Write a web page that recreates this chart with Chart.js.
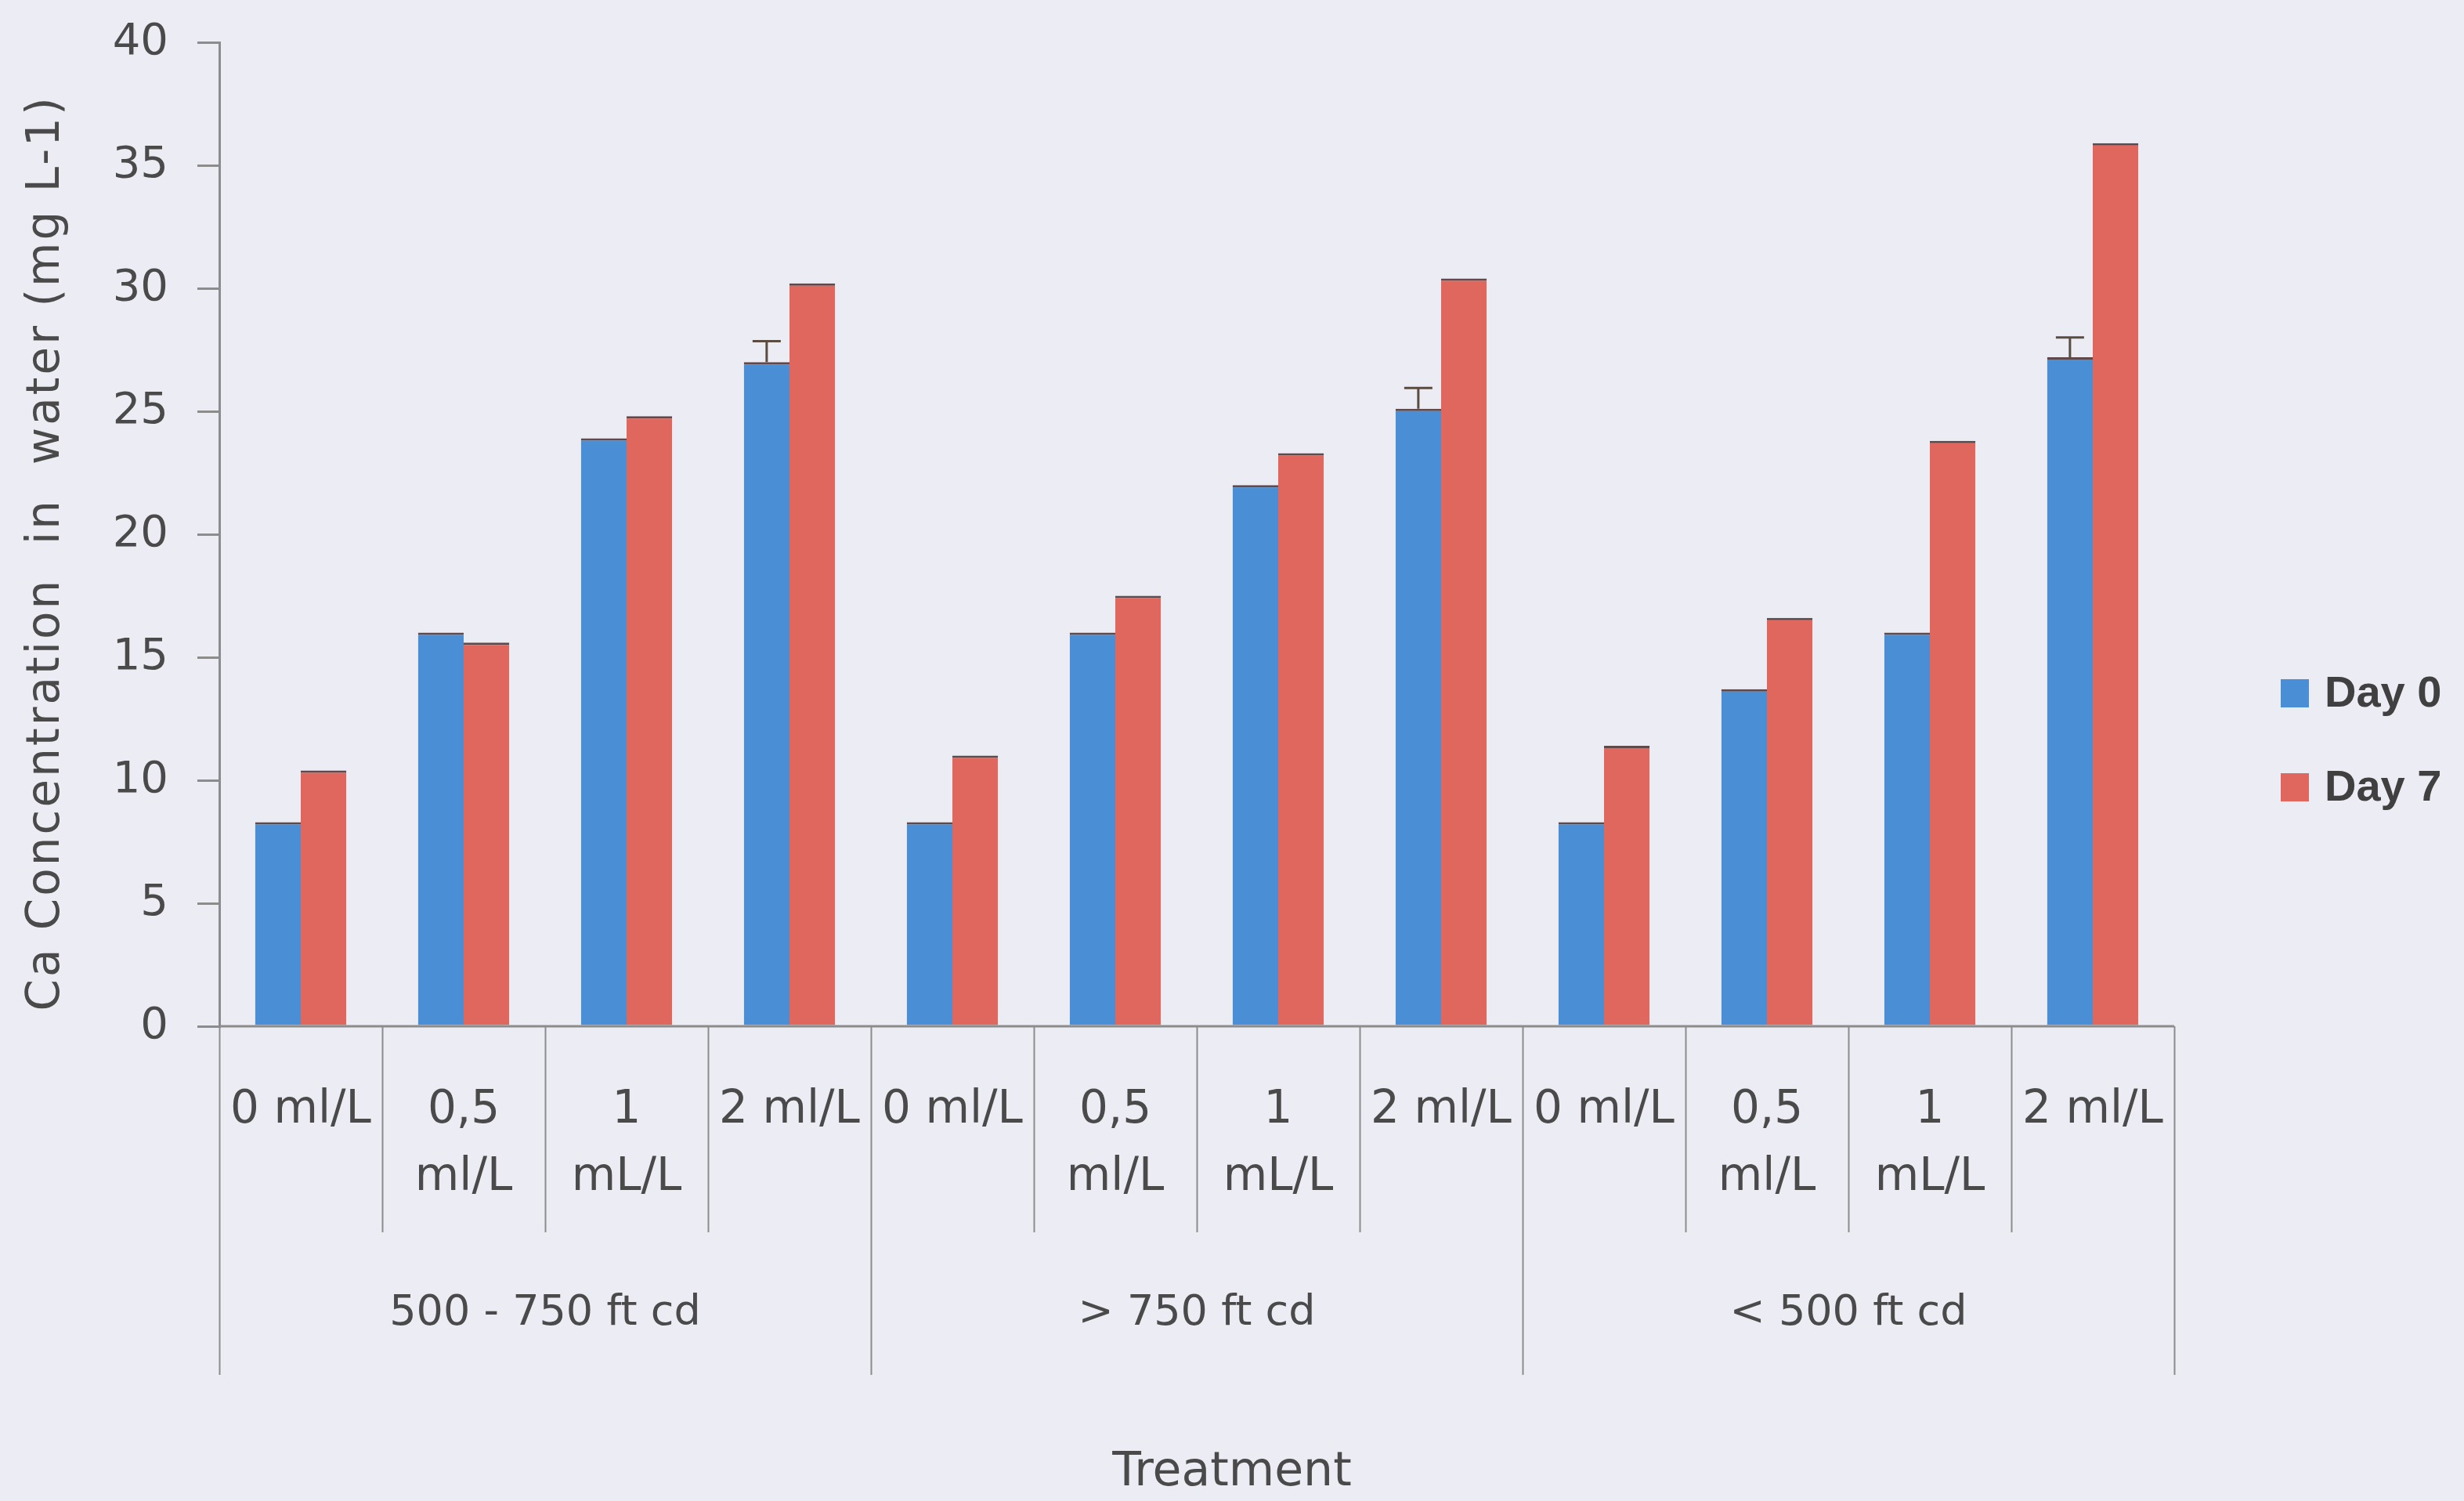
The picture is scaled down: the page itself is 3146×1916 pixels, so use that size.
<!DOCTYPE html>
<html>
<head>
<meta charset="utf-8">
<script src="https://cdn.jsdelivr.net/npm/chart.js@4/dist/chart.umd.min.js"></script>
<style>
  html, body { margin: 0; padding: 0; background: #ececf4; }
  canvas { display: block; }
</style>
</head>
<body>
<canvas id="chart" width="3146" height="1916"></canvas>
<script>
// Ca concentration in water by light level and dose
const doseLabels = [
  ["0 ml/L"], ["0,5", "ml/L"], ["1", "mL/L"], ["2 ml/L"],
  ["0 ml/L"], ["0,5", "ml/L"], ["1", "mL/L"], ["2 ml/L"],
  ["0 ml/L"], ["0,5", "ml/L"], ["1", "mL/L"], ["2 ml/L"]
];
const lightGroups = ["500 - 750 ft cd", "> 750 ft cd", "< 500 ft cd"];
const groupSize = 4;
const seriesNames = ["Day 0", "Day 7"];
const day0 = [8.3, 16.0, 23.9, 27.0, 8.3, 16.0, 22.0, 25.1, 8.3, 13.7, 16.0, 27.2];
const day7 = [10.4, 15.6, 24.8, 30.2, 11.0, 17.5, 23.3, 30.4, 11.4, 16.6, 23.8, 35.9];
const day0Err = [0, 0, 0, 0.85, 0, 0, 0, 0.85, 0, 0, 0, 0.8];
const yTicks = [0, 5, 10, 15, 20, 25, 30, 35, 40];
const yTitle = "Ca Concentration  in  water (mg L-1)";
const xTitle = "Treatment";

const colors = ["#4a8fd6", "#e0675e"];
const axisColor = "#8c8c8c";
const textColor = "#4a4a4a";
const font = "'DejaVu Sans', sans-serif";

const background = {
  id: "background",
  beforeDraw(chart) {
    const { ctx, width, height } = chart;
    ctx.save();
    ctx.fillStyle = "#ececf4";
    ctx.fillRect(0, 0, width, height);
    ctx.restore();
  }
};

// Error bars on Day 0
const errorBars = {
  id: "errorBars",
  afterDatasetsDraw(chart) {
    const { ctx } = chart;
    const y = chart.scales.y;
    const meta = chart.getDatasetMeta(0);
    ctx.save();
    ctx.strokeStyle = "#5a4c40";
    ctx.lineWidth = 3;
    meta.data.forEach((bar, i) => {
      const e = day0Err[i];
      if (!e) return;
      const top = y.getPixelForValue(day0[i] + e);
      const base = y.getPixelForValue(day0[i]);
      ctx.beginPath();
      ctx.moveTo(bar.x, base);
      ctx.lineTo(bar.x, top);
      ctx.moveTo(bar.x - 18, top);
      ctx.lineTo(bar.x + 18, top);
      ctx.stroke();
    });
    ctx.restore();
  }
};

// Two-level category axis, axis titles and legend
const treatmentAxis = {
  id: "treatmentAxis",
  afterDraw(chart) {
    const { ctx } = chart;
    const x = chart.scales.x;
    const y = chart.scales.y;
    const area = chart.chartArea;
    const base = y.getPixelForValue(0);
    const step = x.getPixelForValue(1) - x.getPixelForValue(0);
    const edge = i => x.getPixelForValue(0) - step / 2 + i * step;

    ctx.save();
    ctx.strokeStyle = axisColor;
    ctx.lineWidth = 3;
    ctx.beginPath();
    ctx.moveTo(area.left, base);
    ctx.lineTo(area.right, base);
    ctx.stroke();

    ctx.lineWidth = 2;
    for (let i = 0; i <= doseLabels.length; i++) {
      const bx = Math.round(edge(i)) + 0.5;
      const bottom = (i % groupSize === 0) ? 1755 : 1573;
      ctx.beginPath();
      ctx.moveTo(bx, base);
      ctx.lineTo(bx, bottom);
      ctx.stroke();
    }

    ctx.fillStyle = textColor;
    ctx.textAlign = "center";
    ctx.textBaseline = "middle";
    ctx.font = "58px " + font;
    doseLabels.forEach((lines, i) => {
      const cx = x.getPixelForValue(i);
      lines.forEach((t, k) => ctx.fillText(t, cx, 1418 + k * 86));
    });

    ctx.font = "54px " + font;
    lightGroups.forEach((g, j) => {
      const cx = (edge(j * groupSize) + edge((j + 1) * groupSize)) / 2;
      ctx.fillText(g, cx, 1677);
    });

    ctx.font = "60px " + font;
    ctx.fillText(xTitle, chart.width / 2, 1880);

    ctx.save();
    ctx.translate(60, 706);
    ctx.rotate(-Math.PI / 2);
    ctx.font = "58px " + font;
    ctx.letterSpacing = "3px";
    ctx.fillText(yTitle, 0, 0);
    ctx.restore();

    // legend
    ctx.textAlign = "left";
    ctx.font = "bold 56px 'Liberation Sans', Arial, sans-serif";
    chart.data.datasets.forEach((ds, k) => {
      const cy = 885 + k * 120;
      ctx.fillStyle = ds.backgroundColor;
      ctx.fillRect(2912, cy - 18, 36, 36);
      ctx.fillStyle = "#404040";
      ctx.fillText(ds.label, 2968, cy + 2);
    });
    ctx.restore();
  }
};

new Chart(document.getElementById("chart"), {
  type: "bar",
  data: {
    labels: doseLabels.map(l => l.join(" ")),
    datasets: [
      { label: seriesNames[0], data: day0, backgroundColor: colors[0] },
      { label: seriesNames[1], data: day7, backgroundColor: colors[1] }
    ]
  },
  options: {
    responsive: false,
    animation: false,
    devicePixelRatio: 1,
    layout: { padding: { left: 0, top: 54, right: 370, bottom: 606 } },
    datasets: {
      bar: {
        categoryPercentage: 0.56,
        barPercentage: 1.0,
        borderColor: "rgba(70,45,45,0.85)",
        borderWidth: { top: 3, left: 0, right: 0, bottom: 0 },
        borderSkipped: "start"
      }
    },
    plugins: {
      legend: { display: false },
      tooltip: { enabled: false }
    },
    scales: {
      x: { display: false },
      y: {
        min: 0,
        max: 40,
        afterFit(scale) {
          scale.width = 280;
          scale.paddingTop = 0;
          scale.paddingBottom = 0;
        },
        afterBuildTicks(scale) { scale.ticks = yTicks.map(v => ({ value: v })); },
        ticks: {
          padding: 37,
          color: textColor,
          font: { family: font, size: 56 }
        },
        grid: {
          drawOnChartArea: false,
          drawTicks: true,
          tickLength: 28,
          color: axisColor,
          lineWidth: 3
        },
        border: { display: true, color: axisColor, width: 3 },
        title: { display: false }
      }
    }
  },
  plugins: [background, errorBars, treatmentAxis]
});
</script>
</body>
</html>
